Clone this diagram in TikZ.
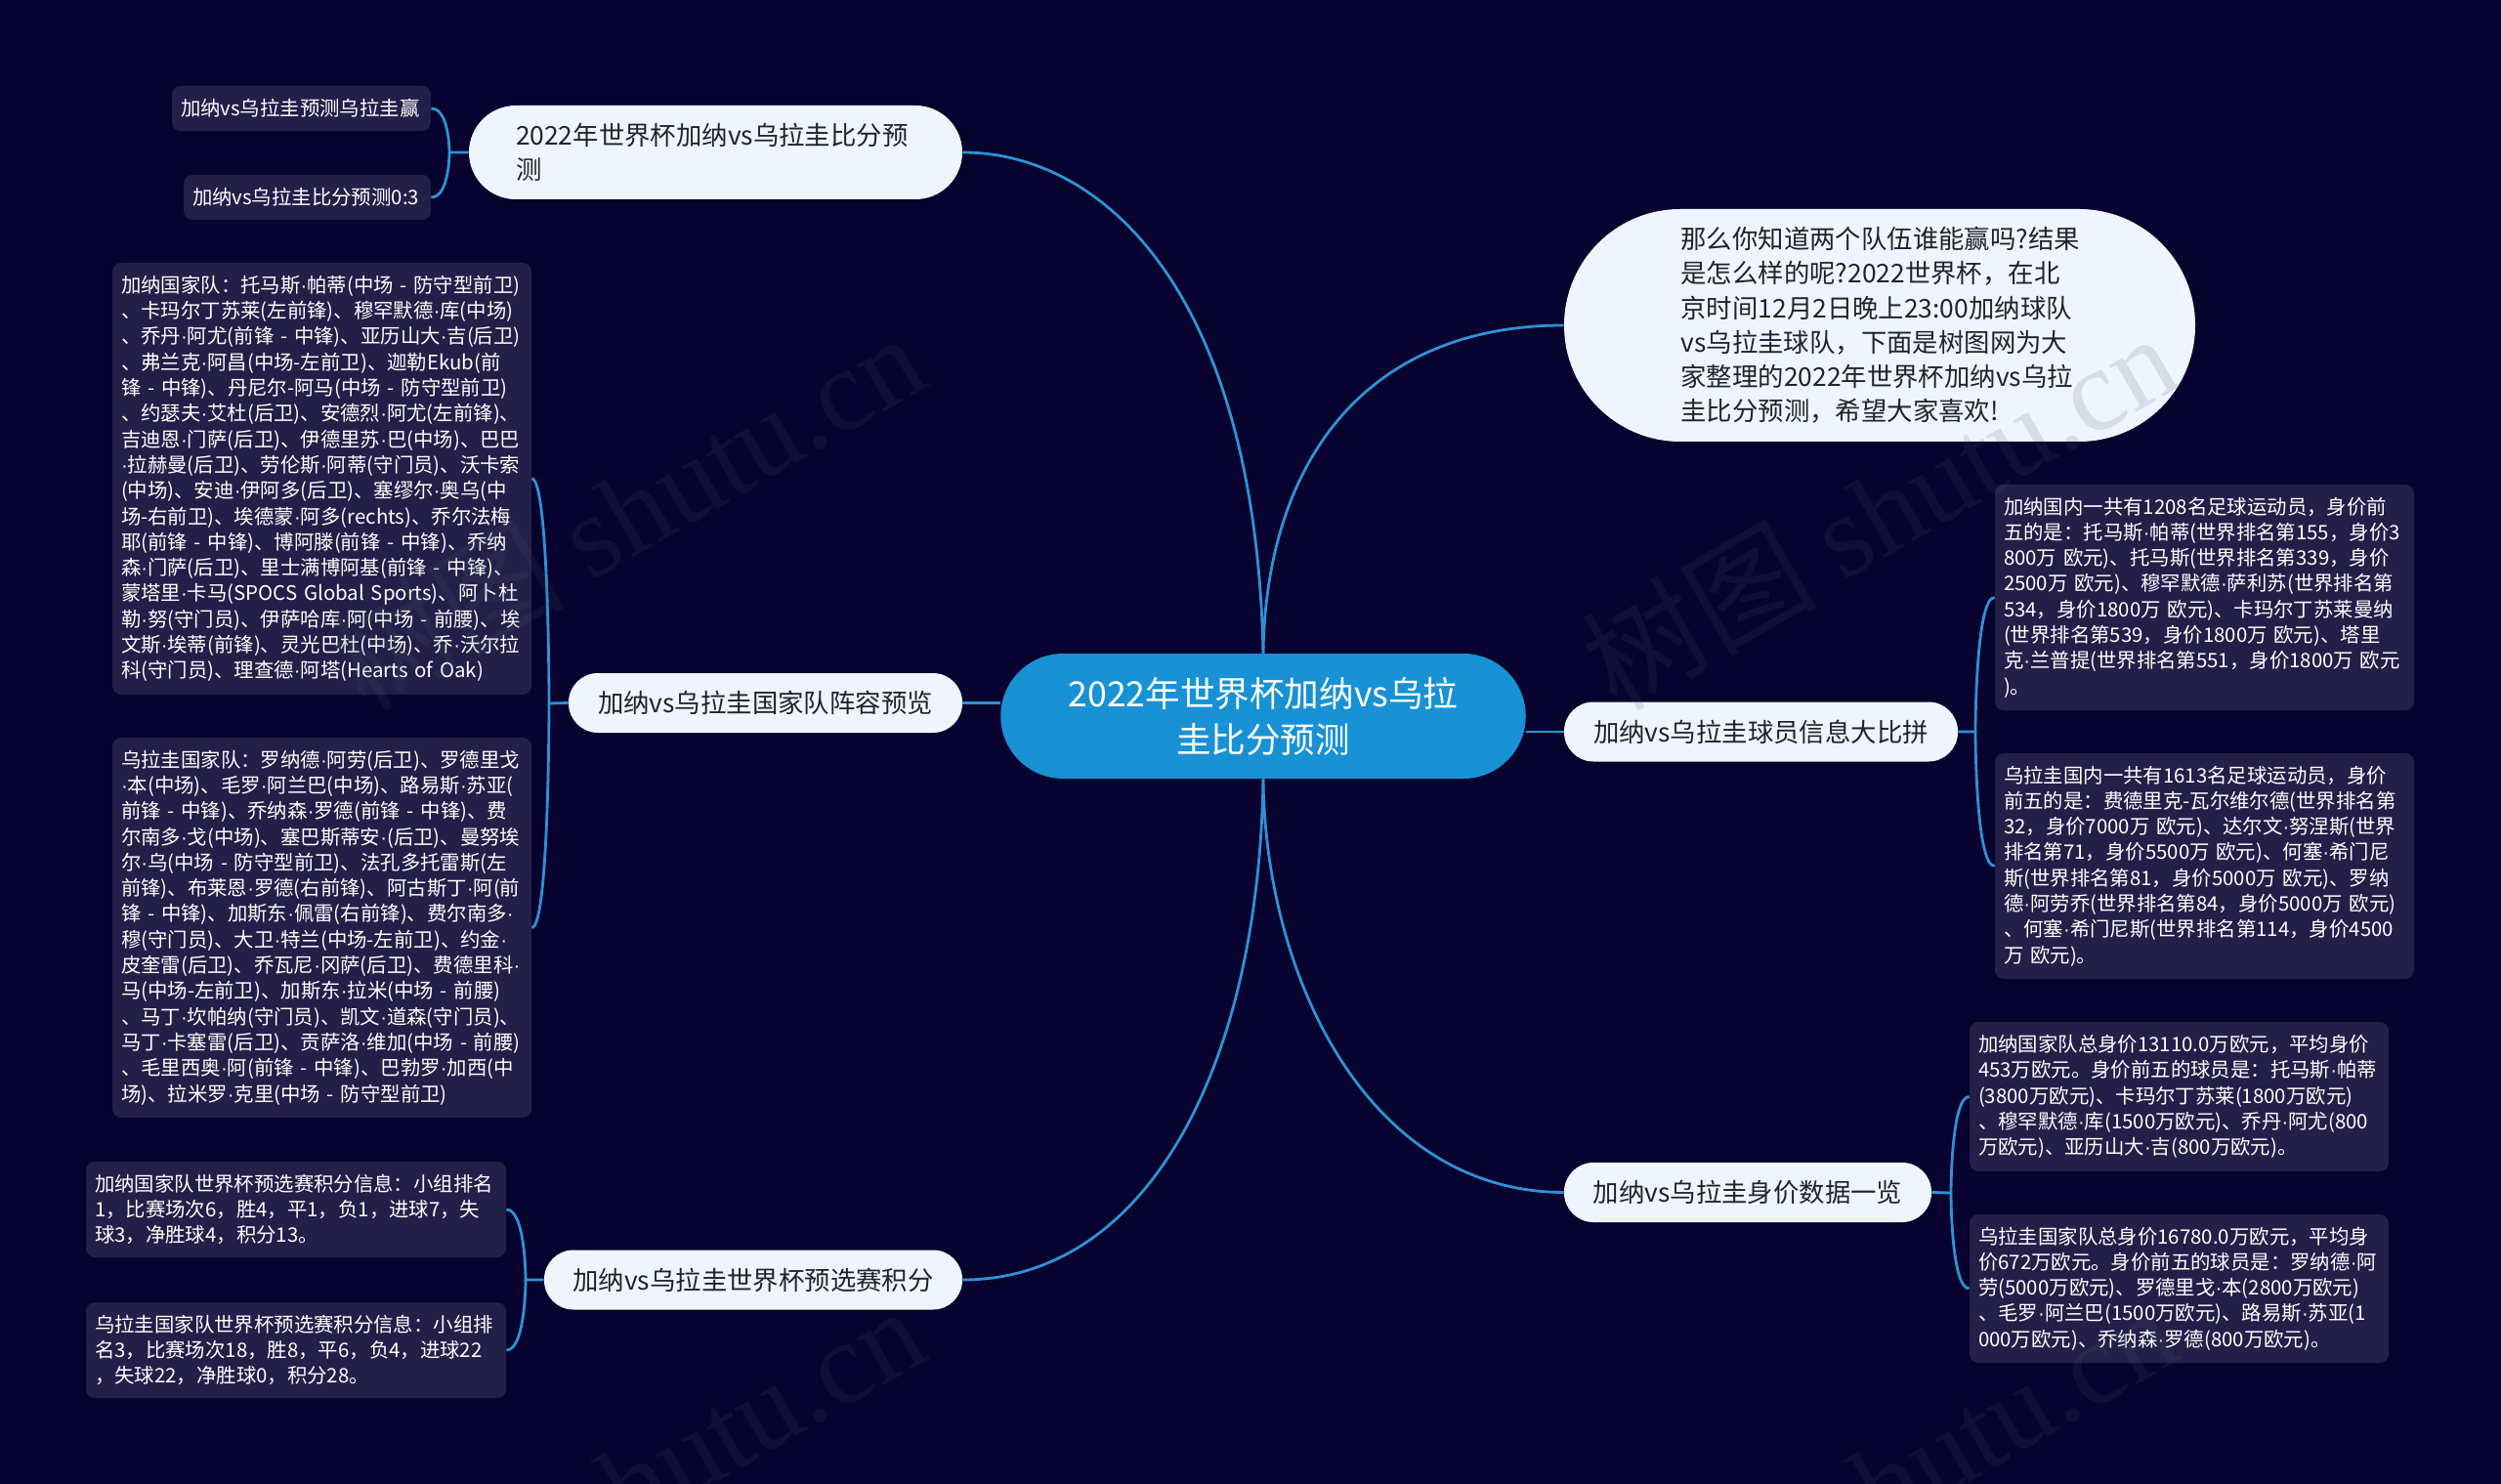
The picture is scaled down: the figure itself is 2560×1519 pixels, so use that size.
\documentclass[tikz,border=0pt]{standalone}
\usepackage{fontspec}
\setmainfont{Noto Sans CJK SC}
\newfontfamily\wmserif{Liberation Serif}
\newfontfamily\dotfont{Liberation Sans}
\definecolor{nightblue}{RGB}{7, 3, 46}
\definecolor{rootblue}{RGB}{24, 146, 213}
\definecolor{linkblue}{RGB}{46, 146, 214}
\definecolor{leafpurple}{RGB}{35, 31, 73}
\definecolor{branchwhite}{RGB}{239, 245, 254}
\definecolor{branchtext}{RGB}{34, 34, 44}
\definecolor{markgrey}{RGB}{80, 85, 100}
% lines are broken by hand, never after a hyphen
\exhyphenpenalty=10000
% the middle dot of the CJK font is too wide
\catcode`·=\active
\def·{{\dotfont\char"B7}}
\tikzset{
  rootbox/.style={fill=rootblue, text=white, rounded corners=32pt, align=center, inner sep=0pt, font=\fontsize{17.8}{23.4}\selectfont},
  branchbox/.style={fill=branchwhite, text=branchtext, rounded corners=15pt, align=center, inner sep=0pt, minimum height=30.5pt, font=\fontsize{13.2}{17.6}\selectfont},
  leafbox/.style={fill=leafpurple, text=white, rounded corners=4.5pt, align=left, inner xsep=4.5pt, inner ysep=0pt, font=\fontsize{10.2}{13.15}\selectfont},
  link/.style={draw=linkblue, line width=1.4pt},
  markbox/.style={text=markgrey, opacity=.15, rotate=30, font=\fontsize{60}{66}\selectfont}
}

\begin{document}
\begin{tikzpicture}[x=0.5pt, y=-0.5pt]
  \clip (0,0) rectangle (2560,1519);
  \fill[nightblue] (0,0) rectangle (2560,1519);

  % middle of the map
  \node[rootbox, minimum width=268.75pt, minimum height=64pt] (root) at (1293,733) {2022年世界杯加纳vs乌拉\\圭比分预测};

  % left side
  \node[branchbox, rounded corners=24pt, align=left, text width=204.5pt, inner xsep=24pt, minimum height=48pt] (predict) at (732.5,156) {2022年世界杯加纳vs乌拉圭比分预\\测};
  \node[branchbox, minimum width=201.5pt] (squad) at (783.5,719.5) {加纳vs乌拉圭国家队阵容预览};
  \node[branchbox, minimum width=214pt] (points) at (771,1310) {加纳vs乌拉圭世界杯预选赛积分};

  \node[leafbox, text width=123.5pt, minimum height=23.25pt] (winner) at (308.5,111) {加纳vs乌拉圭预测乌拉圭赢};
  \node[leafbox, text width=117.5pt, minimum height=23pt] (score) at (314.5,202) {加纳vs乌拉圭比分预测0:3};
  \node[leafbox, text width=205.5pt, minimum height=221pt] (ghsquad) at (329.5,490) {加纳国家队：托马斯·帕蒂(中场~-~防守型前卫)\\
    、卡玛尔丁苏莱(左前锋)、穆罕默德·库(中场)\\
    、乔丹·阿尤(前锋~-~中锋)、亚历山大·吉(后卫)\\
    、弗兰克·阿昌(中场-左前卫)、迦勒Ekub(前\\
    锋~-~中锋)、丹尼尔-阿马(中场~-~防守型前卫)\\
    、约瑟夫·艾杜(后卫)、安德烈·阿尤(左前锋)、\\
    吉迪恩·门萨(后卫)、伊德里苏·巴(中场)、巴巴\\
    ·拉赫曼(后卫)、劳伦斯·阿蒂(守门员)、沃卡索\\
    (中场)、安迪·伊阿多(后卫)、塞缪尔·奥乌(中\\
    场-右前卫)、埃德蒙·阿多(rechts)、乔尔法梅\\
    耶(前锋~-~中锋)、博阿滕(前锋~-~中锋)、乔纳\\
    森·门萨(后卫)、里士满博阿基(前锋~-~中锋)、\\
    蒙塔里·卡马(SPOCS~Global~Sports)、阿卜杜\\
    勒·努(守门员)、伊萨哈库·阿(中场~-~前腰)、埃\\
    文斯·埃蒂(前锋)、灵光巴杜(中场)、乔·沃尔拉\\
    科(守门员)、理查德·阿塔(Hearts~of~Oak)};
  \node[leafbox, text width=205.5pt, minimum height=194.5pt] (uysquad) at (329.5,949.5) {乌拉圭国家队：罗纳德·阿劳(后卫)、罗德里戈\\
    ·本(中场)、毛罗·阿兰巴(中场)、路易斯·苏亚(\\
    前锋~-~中锋)、乔纳森·罗德(前锋~-~中锋)、费\\
    尔南多·戈(中场)、塞巴斯蒂安·(后卫)、曼努埃\\
    尔·乌(中场~-~防守型前卫)、法孔多托雷斯(左\\
    前锋)、布莱恩·罗德(右前锋)、阿古斯丁·阿(前\\
    锋~-~中锋)、加斯东·佩雷(右前锋)、费尔南多·\\
    穆(守门员)、大卫·特兰(中场-左前卫)、约金·\\
    皮奎雷(后卫)、乔瓦尼·冈萨(后卫)、费德里科·\\
    马(中场-左前卫)、加斯东·拉米(中场~-~前腰)\\
    、马丁·坎帕纳(守门员)、凯文·道森(守门员)、\\
    马丁·卡塞雷(后卫)、贡萨洛·维加(中场~-~前腰)\\
    、毛里西奥·阿(前锋~-~中锋)、巴勃罗·加西(中\\
    场)、拉米罗·克里(中场~-~防守型前卫)};
  \node[leafbox, text width=206pt, minimum height=49pt] (ghpoints) at (303,1238) {加纳国家队世界杯预选赛积分信息：小组排名\\
    1，比赛场次6，胜4，平1，负1，进球7，失\\
    球3，净胜球4，积分13。};
  \node[leafbox, text width=206pt, minimum height=49pt] (uypoints) at (303,1382) {乌拉圭国家队世界杯预选赛积分信息：小组排\\
    名3，比赛场次18，胜8，平6，负4，进球22\\
    ，失球22，净胜球0，积分28。};

  % right side
  \node[branchbox, rounded corners=59.5pt, align=left, text width=203.5pt, inner xsep=59.75pt, minimum height=119pt] (intro) at (1924,333) {那么你知道两个队伍谁能赢吗?结果\\
    是怎么样的呢?2022世界杯，在北\\
    京时间12月2日晚上23:00加纳球队\\
    vs乌拉圭球队，下面是树图网为大\\
    家整理的2022年世界杯加纳vs乌拉\\
    圭比分预测，希望大家喜欢!};
  \node[branchbox, minimum width=201.5pt] (players) at (1802.5,749) {加纳vs乌拉圭球员信息大比拼};
  \node[branchbox, minimum width=188pt] (value) at (1789,1220.5) {加纳vs乌拉圭身价数据一览};

  \node[leafbox, text width=205.5pt, minimum height=115.5pt] (ghplayers) at (2256.5,611.5) {加纳国内一共有1208名足球运动员，身价前\\
    五的是：托马斯·帕蒂(世界排名第155，身价3\\
    800万~欧元)、托马斯(世界排名第339，身价\\
    2500万~欧元)、穆罕默德·萨利苏(世界排名第\\
    534，身价1800万~欧元)、卡玛尔丁苏莱曼纳\\
    (世界排名第539，身价1800万~欧元)、塔里\\
    克·兰普提(世界排名第551，身价1800万~欧元\\
    )。};
  \node[leafbox, text width=205.5pt, minimum height=115.5pt] (uyplayers) at (2256.5,886.5) {乌拉圭国内一共有1613名足球运动员，身价\\
    前五的是：费德里克-瓦尔维尔德(世界排名第\\
    32，身价7000万~欧元)、达尔文·努涅斯(世界\\
    排名第71，身价5500万~欧元)、何塞·希门尼\\
    斯(世界排名第81，身价5000万~欧元)、罗纳\\
    德·阿劳乔(世界排名第84，身价5000万~欧元)\\
    、何塞·希门尼斯(世界排名第114，身价4500\\
    万~欧元)。};
  \node[leafbox, text width=205.5pt, minimum height=76.5pt] (ghvalue) at (2230.5,1122.5) {加纳国家队总身价13110.0万欧元，平均身价\\
    453万欧元。身价前五的球员是：托马斯·帕蒂\\
    (3800万欧元)、卡玛尔丁苏莱(1800万欧元)\\
    、穆罕默德·库(1500万欧元)、乔丹·阿尤(800\\
    万欧元)、亚历山大·吉(800万欧元)。};
  \node[leafbox, text width=205.5pt, minimum height=76pt] (uyvalue) at (2230.5,1319) {乌拉圭国家队总身价16780.0万欧元，平均身\\
    价672万欧元。身价前五的球员是：罗纳德·阿\\
    劳(5000万欧元)、罗德里戈·本(2800万欧元)\\
    、毛罗·阿兰巴(1500万欧元)、路易斯·苏亚(1\\
    000万欧元)、乔纳森·罗德(800万欧元)。};

  % where the forks of the leaves meet
  \coordinate (forkpredict) at (460,156);
  \coordinate (forksquad) at (562,720);
  \coordinate (forkpoints) at (538,1310);
  \coordinate (forkplayers) at (2022,749);
  \coordinate (forkvalue) at (1997,1221);

  % big curves
  \draw[link] (root.north) .. controls (1285,300) and (1130,156) .. (predict.east);
  \draw[link] (root.north) .. controls (1296,470) and (1400,333) .. (intro.west);
  \draw[link] (root.south) .. controls (1288,1100) and (1170,1310) .. (points.east);
  \draw[link] (root.south) .. controls (1295,1000) and (1400,1220) .. (value.west);
  \draw[link] (root.west |- squad.east) -- (squad.east);
  \draw[link] (root.east |- players.west) -- (players.west);

  % forks
  \draw[link] (winner.east) .. controls (forkpredict |- winner.east) and (forkpredict) .. (forkpredict) -- (predict.west);
  \draw[link] (score.east) .. controls (forkpredict |- score.east) and (forkpredict) .. (forkpredict);
  \draw[link] (ghsquad.east) .. controls (forksquad |- ghsquad.east) and (forksquad) .. (forksquad) -- (squad.west);
  \draw[link] (uysquad.east) .. controls (forksquad |- uysquad.east) and (forksquad) .. (forksquad);
  \draw[link] (ghpoints.east) .. controls (forkpoints |- ghpoints.east) and (forkpoints) .. (forkpoints) -- (points.west);
  \draw[link] (uypoints.east) .. controls (forkpoints |- uypoints.east) and (forkpoints) .. (forkpoints);
  \draw[link] (ghplayers.west) .. controls (forkplayers |- ghplayers.west) and (forkplayers) .. (forkplayers) -- (players.east);
  \draw[link] (uyplayers.west) .. controls (forkplayers |- uyplayers.west) and (forkplayers) .. (forkplayers);
  \draw[link] (ghvalue.west) .. controls (forkvalue |- ghvalue.west) and (forkvalue) .. (forkvalue) -- (value.east);
  \draw[link] (uyvalue.west) .. controls (forkvalue |- uyvalue.west) and (forkvalue) .. (forkvalue);

  % watermark
  \foreach \i/\mx/\my in {1/641/522, 2/1923/522, 3/641/1518, 4/1923/1518}
    \node[markbox] (mark\i) at (\mx,\my) {树图 {\wmserif shutu.cn}};
\end{tikzpicture}
\end{document}
